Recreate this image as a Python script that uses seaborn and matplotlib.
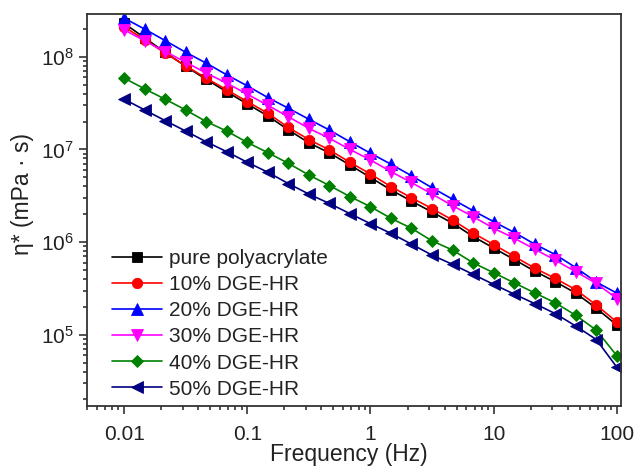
import matplotlib
matplotlib.use("Agg")
import matplotlib.pyplot as plt
import matplotlib.ticker as mticker
import numpy as np
import pandas as pd
import seaborn as sns

# Oscillation frequencies (Hz), six points per decade
frequency = [0.01, 0.0147, 0.0215, 0.0316, 0.0464, 0.0681,
             0.1, 0.147, 0.215, 0.316, 0.464, 0.681,
             1, 1.47, 2.15, 3.16, 4.64, 6.81,
             10, 14.7, 21.5, 31.6, 46.4, 68.1, 100]

# Complex viscosity eta* (mPa·s) for each formulation
pure_polyacrylate = [2.30e8, 1.60e8, 1.12e8, 7.89e7, 5.71e7, 4.19e7,
                     3.10e7, 2.30e7, 1.63e7, 1.18e7, 9.17e6, 6.80e6,
                     4.98e6, 3.65e6, 2.77e6, 2.11e6, 1.60e6, 1.15e6,
                     8.61e5, 6.47e5, 4.86e5, 3.74e5, 2.81e5, 1.93e5, 1.27e5]
dge_10 = [2.11e8, 1.53e8, 1.10e8, 8.00e7, 5.89e7, 4.40e7,
          3.29e7, 2.46e7, 1.73e7, 1.28e7, 9.88e6, 7.27e6,
          5.43e6, 3.96e6, 3.01e6, 2.30e6, 1.73e6, 1.25e6,
          9.40e5, 7.00e5, 5.24e5, 4.05e5, 3.06e5, 2.09e5, 1.37e5]
dge_20 = [2.62e8, 1.99e8, 1.50e8, 1.12e8, 8.55e7, 6.39e7,
          4.86e7, 3.63e7, 2.79e7, 2.12e7, 1.62e7, 1.21e7,
          9.10e6, 6.92e6, 5.21e6, 3.86e6, 2.90e6, 2.18e6,
          1.66e6, 1.27e6, 9.51e5, 7.33e5, 5.30e5, 3.70e5, 2.81e5]
dge_30 = [1.96e8, 1.49e8, 1.14e8, 8.77e7, 6.67e7, 5.20e7,
          3.95e7, 2.99e7, 2.26e7, 1.69e7, 1.32e7, 1.00e7,
          7.70e6, 5.75e6, 4.40e6, 3.30e6, 2.47e6, 1.88e6,
          1.41e6, 1.10e6, 8.40e5, 6.38e5, 4.78e5, 3.58e5, 2.46e5]
dge_40 = [5.89e7, 4.51e7, 3.49e7, 2.67e7, 2.00e7, 1.58e7,
          1.19e7, 9.23e6, 7.09e6, 5.30e6, 4.08e6, 3.10e6,
          2.41e6, 1.80e6, 1.41e6, 1.03e6, 8.20e5, 5.97e5,
          4.66e5, 3.63e5, 2.83e5, 2.21e5, 1.62e5, 1.12e5, 5.93e4]
dge_50 = [3.49e7, 2.67e7, 2.05e7, 1.58e7, 1.21e7, 9.46e6,
          7.27e6, 5.67e6, 4.29e6, 3.30e6, 2.61e6, 2.03e6,
          1.58e6, 1.24e6, 9.51e5, 7.23e5, 5.74e5, 4.48e5,
          3.49e5, 2.74e5, 2.17e5, 1.69e5, 1.24e5, 8.87e4, 4.45e4]

series_labels = ["pure polyacrylate", "10% DGE-HR", "20% DGE-HR",
                 "30% DGE-HR", "40% DGE-HR", "50% DGE-HR"]
series_values = [pure_polyacrylate, dge_10, dge_20, dge_30, dge_40, dge_50]
series_colors = ["#000000", "#FF0000", "#0000FF", "#FF00FF", "#008000", "#000080"]
series_markers = ["s", "o", "^", "v", "D", "<"]
series_msize = [6.5, 7.5, 8.0, 8.0, 6.5, 8.0]

sns.set_style("ticks")
plt.rcParams["font.family"] = ["Liberation Sans", "DejaVu Sans"]
plt.rcParams["mathtext.fontset"] = "custom"
plt.rcParams["mathtext.rm"] = "Liberation Sans"
plt.rcParams["mathtext.it"] = "Liberation Sans:italic"
plt.rcParams["mathtext.default"] = "regular"

fig = plt.figure(figsize=(6.36, 4.70), dpi=100)
ax = fig.add_axes([87 / 636, 64 / 470, 534 / 636, 392 / 470])

df = pd.DataFrame({
    "Frequency": np.tile(frequency, len(series_labels)),
    "eta": np.concatenate(series_values),
    "sample": np.repeat(series_labels, len(frequency)),
})

for lab, col, mk, ms in zip(series_labels, series_colors, series_markers, series_msize):
    sub = df[df["sample"] == lab]
    sns.lineplot(data=sub, x="Frequency", y="eta", ax=ax, color=col,
                 marker=mk, markersize=ms, markeredgecolor=col,
                 markeredgewidth=0.6, linewidth=1.2, label=lab,
                 estimator=None, sort=False)

ax.set_xscale("log")
ax.set_yscale("log")
ax.set_xlim(0.005, 108)
ax.set_ylim(1.7e4, 2.9e8)

ax.xaxis.set_major_locator(mticker.FixedLocator([0.01, 0.1, 1, 10, 100]))
ax.xaxis.set_major_formatter(mticker.FixedFormatter(["0.01", "0.1", "1", "10", "100"]))
ax.xaxis.set_minor_locator(mticker.LogLocator(base=10, subs=np.arange(2, 10), numticks=20))
ax.xaxis.set_minor_formatter(mticker.NullFormatter())

ax.yaxis.set_major_locator(mticker.FixedLocator([1e5, 1e6, 1e7, 1e8]))
ax.yaxis.set_major_formatter(mticker.LogFormatterSciNotation())
ax.yaxis.set_minor_locator(mticker.LogLocator(base=10, subs=np.arange(2, 10), numticks=20))
ax.yaxis.set_minor_formatter(mticker.NullFormatter())

ax.tick_params(which="both", direction="out", top=False, right=False,
               colors="#222222", width=1.1)
ax.tick_params(which="major", length=5.5, labelsize=15)
ax.tick_params(axis="x", which="major", pad=8)
ax.tick_params(axis="y", which="major", pad=4)
ax.tick_params(which="minor", length=3)
for s in ax.spines.values():
    s.set_linewidth(1.3)
    s.set_color("#333333")

ax.set_xlabel("Frequency (Hz)", fontsize=16.5, color="#222222")
ax.set_ylabel("η* (mPa · s)", fontsize=16.5, color="#222222")
ax.yaxis.set_label_coords(-0.10, 0.54)
ax.xaxis.set_label_coords(0.49, -0.094)

leg = ax.legend(loc="upper left", bbox_to_anchor=(0.046, 0.40), frameon=False,
                fontsize=15, handlelength=2.4, handletextpad=0.35,
                labelspacing=0.34, borderpad=0, borderaxespad=0)
for t in leg.get_texts():
    t.set_color("#222222")

fig.savefig("out.png", dpi=100)
